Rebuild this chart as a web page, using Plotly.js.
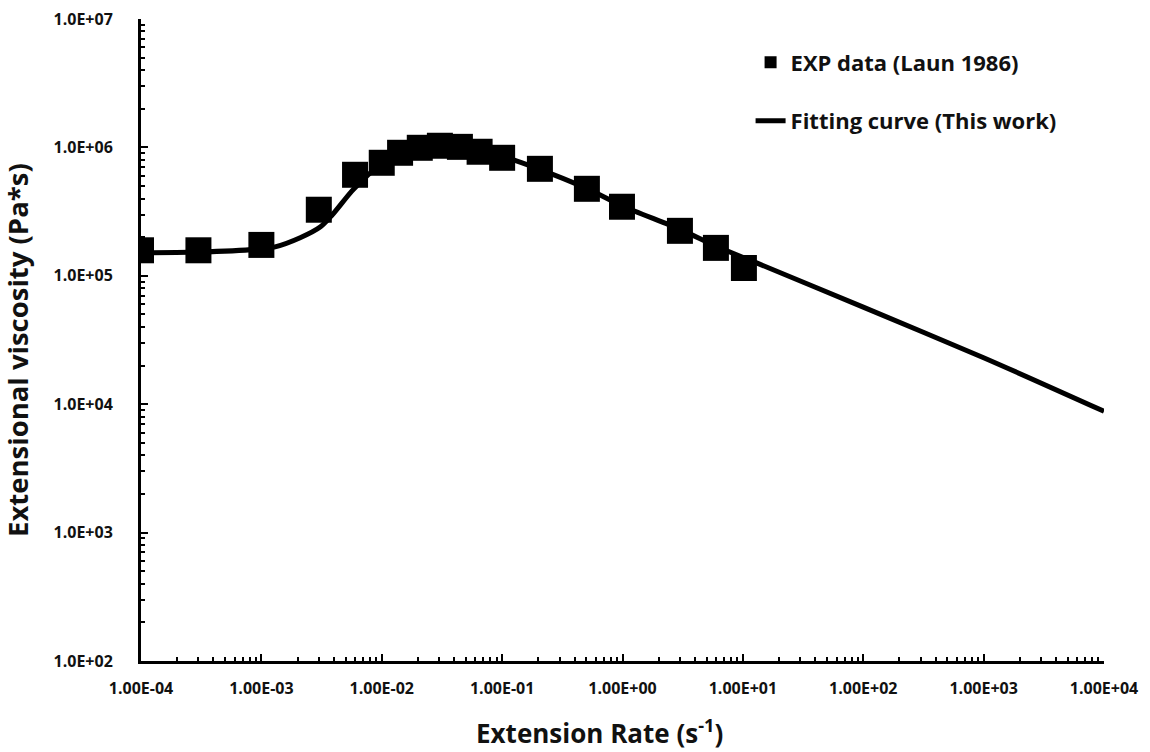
<!DOCTYPE html>
<html>
<head>
<meta charset="utf-8">
<script src="https://cdn.plot.ly/plotly-3.0.1.min.js"></script>
<style>
html,body{margin:0;padding:0;background:#fff;}
#chart{width:1150px;height:752px;}
</style>
</head>
<body>
<div id="chart"></div>
<script>
// Experimental data (Laun 1986)
var expRate = [1e-4, 3e-4, 1e-3, 3e-3, 6e-3, 1e-2, 1.42e-2, 2.07e-2, 3.04e-2, 4.46e-2, 6.5e-2, 1e-1, 2.06e-1, 5.06e-1, 0.99, 3.0, 5.97, 10.2];
var expVisc = [1.58e5, 1.58e5, 1.74e5, 3.27e5, 6.12e5, 7.59e5, 9.08e5, 9.93e5, 1.03e6, 1.01e6, 9.25e5, 8.3e5, 6.81e5, 4.76e5, 3.45e5, 2.24e5, 1.65e5, 1.15e5];

// Fitting curve (This work)
var fitRate = [1e-4, 3e-4, 1e-3, 1.3e-3, 2.1e-3, 3.1e-3, 3.9e-3, 5.5e-3, 6.6e-3, 8e-3, 1e-2, 1.5e-2, 2e-2, 3e-2, 4e-2, 6e-2, 1e-1, 2e-1, 5e-1, 1, 3, 6, 13, 100, 1000, 1e4];
var fitVisc = [1.51e5, 1.53e5, 1.62e5, 1.68e5, 1.98e5, 2.41e5, 3.0e5, 4.45e5, 5.3e5, 6.3e5, 7.4e5, 8.8e5, 9.5e5, 1.0e6, 1.0e6, 9.5e5, 8.5e5, 6.8e5, 4.8e5, 3.5e5, 2.3e5, 1.7e5, 1.26e5, 5.7e4, 2.3e4, 8.8e3];

// Tick labels
var xTickVals = [1e-4, 1e-3, 1e-2, 1e-1, 1, 10, 100, 1000, 1e4];
var xTickText = ["1.00E-04", "1.00E-03", "1.00E-02", "1.00E-01", "1.00E+00", "1.00E+01", "1.00E+02", "1.00E+03", "1.00E+04"];
var yTickVals = [1e2, 1e3, 1e4, 1e5, 1e6, 1e7];
var yTickText = ["1.0E+02", "1.0E+03", "1.0E+04", "1.0E+05", "1.0E+06", "1.0E+07"];

// Titles
var xTitle = "<b>Extension Rate (s<sup>-1</sup>)</b>";
var yTitle = "<b>Extensional viscosity (Pa*s)</b>";

var FONT = "'Open Sans', 'Noto Sans', sans-serif";
var INK = "#111111";

var traces = [
  {
    x: expRate, y: expVisc,
    type: "scatter", mode: "markers",
    name: "<b>EXP data (Laun 1986)</b>",
    marker: {symbol: "square", size: 26, color: "#000000"},
    legendgroup: "a"
  },
  {
    x: fitRate, y: fitVisc,
    type: "scatter", mode: "lines",
    name: "<b>Fitting curve (This work)</b>",
    line: {color: "#000000", width: 5, shape: "spline", smoothing: 0.8},
    legendgroup: "b"
  }
];

var axisCommon = {
  type: "log",
  showgrid: false,
  zeroline: false,
  showline: true,
  linecolor: "#000000",
  linewidth: 3,
  ticks: "inside",
  ticklen: 7,
  tickwidth: 2,
  tickcolor: "#000000",
  tickmode: "array",
  minor: {ticks: "inside", ticklen: 4, tickwidth: 2, tickcolor: "#000000", dtick: "D1", showgrid: false}
};

var layout = {
  width: 1150, height: 752,
  paper_bgcolor: "#ffffff", plot_bgcolor: "#ffffff",
  margin: {l: 141, r: 46, t: 19, b: 91},
  showlegend: true,
  legend: {
    x: 0.633, y: 0.965, xanchor: "left", yanchor: "top",
    bgcolor: "rgba(0,0,0,0)",
    font: {family: FONT, size: 22, color: INK},
    traceorder: "grouped",
    tracegroupgap: 27,
    itemsizing: "constant"
  },
  xaxis: Object.assign({}, axisCommon, {
    range: [-4, 4],
    tickvals: xTickVals, ticktext: xTickText,
    ticklabelstandoff: 11,
    tickfont: {family: FONT, size: 16, color: INK, weight: "bold"}
  }),
  yaxis: Object.assign({}, axisCommon, {
    range: [2, 7],
    tickvals: yTickVals, ticktext: yTickText,
    ticklabelstandoff: 22,
    tickfont: {family: FONT, size: 16, color: INK, weight: "bold"}
  }),
  annotations: [
    {text: xTitle, xref: "paper", yref: "paper", x: 0.4766, y: -0.11,
     xanchor: "center", yanchor: "middle", showarrow: false,
     font: {family: FONT, size: 26, color: INK}},
    {text: yTitle, xref: "paper", yref: "paper", x: -0.1288, y: 0.4844,
     xanchor: "center", yanchor: "middle", showarrow: false, textangle: -90,
     font: {family: FONT, size: 27.5, color: INK}}
  ]
};

Plotly.newPlot("chart", traces, layout, {displayModeBar: false, staticPlot: true});
</script>
</body>
</html>
